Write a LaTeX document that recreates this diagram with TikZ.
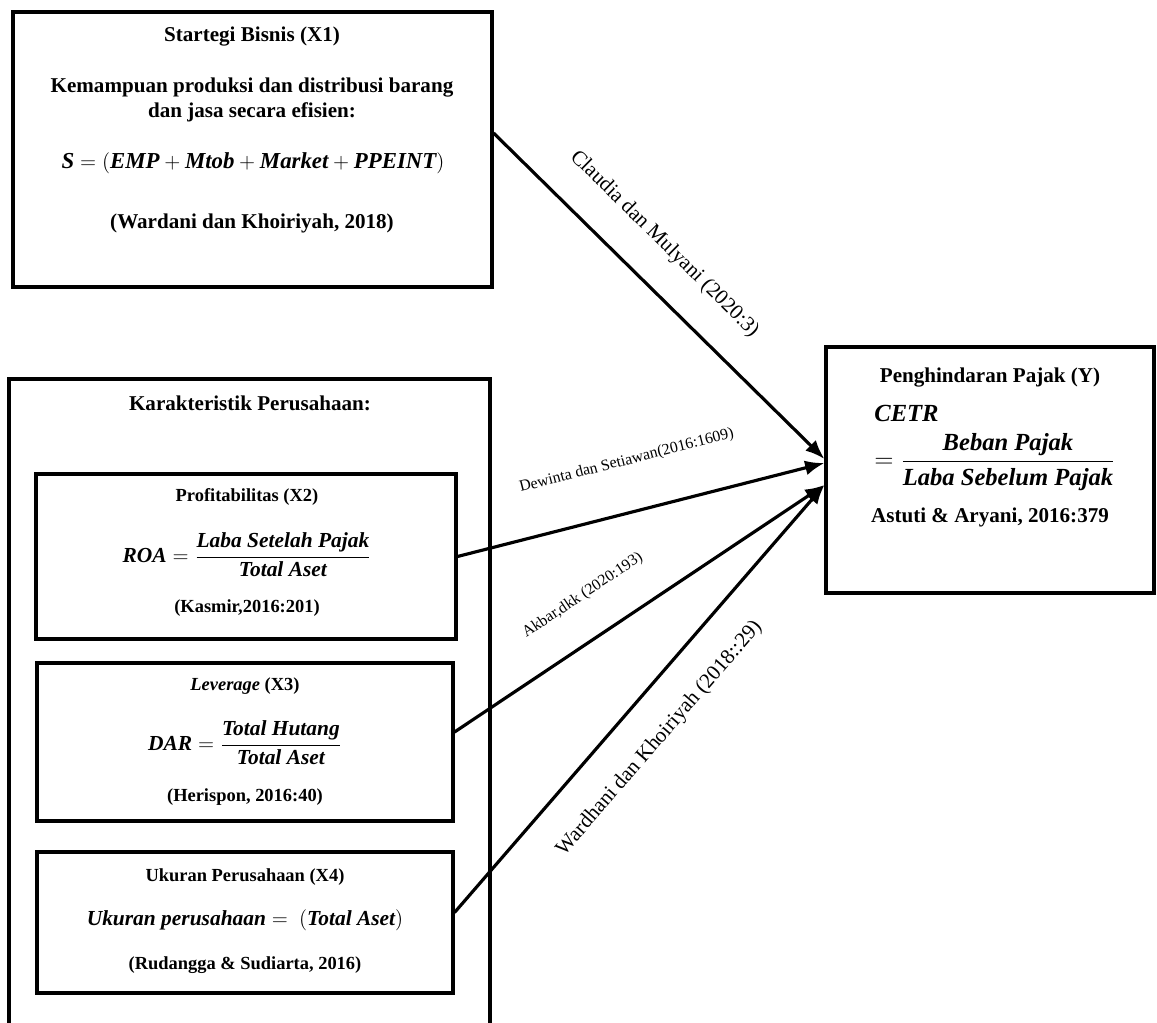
\documentclass[tikz,border=0pt]{standalone}
\usepackage{fontspec}
\setmainfont{Liberation Serif}
\usepackage{amsmath}
\usetikzlibrary{arrows.meta}

% bold italic letters in the formulas
\newcommand{\mv}[1]{\text{\bfseries\itshape #1}}

\tikzset{
	varbox/.style={draw, line width=1.8pt, inner sep=0pt},
	link/.style={line width=1.8pt, -{Latex[length=11pt,width=8.5pt]}},
	head/.style={font=\fontsize{12}{14.5}\selectfont\bfseries, align=center},
	subhead/.style={font=\fontsize{10.5}{12.5}\selectfont\bfseries},
	bigeq/.style={font=\fontsize{13}{15}\selectfont},
	yeq/.style={font=\fontsize{14}{16}\selectfont},
	smalleq/.style={font=\fontsize{12.2}{14}\selectfont},
	bigcite/.style={font=\fontsize{12}{14}\selectfont, inner sep=0pt},
	smallcite/.style={font=\fontsize{9}{11}\selectfont, inner sep=0pt},
}

\begin{document}
\begin{tikzpicture}[x=0.02cm, y=-0.02cm]
\useasboundingbox (0,0) rectangle (1157,1023);

	% boxes
\path
	(252.5,149.5) node[varbox, minimum width=9.58cm, minimum height=5.5cm] (x1) {}
	(246,556.5) node[varbox, minimum width=8.4cm, minimum height=3.3cm] (x2) {}
	(245,742) node[varbox, minimum width=8.32cm, minimum height=3.16cm] (x3) {}
	(245,922.5) node[varbox, minimum width=8.32cm, minimum height=2.82cm] (x4) {}
	(990,470) node[varbox, minimum width=6.56cm, minimum height=4.92cm] (y) {}
	;
\draw[line width=1.8pt] (9,1023) -- (9,379) -- (490,379) -- (490,1023);

	% X1
\path
	(252,37) node[head] (x1title) {Startegi Bisnis (X1)}
	(252,100) node[head] (x1text) {Kemampuan produksi dan distribusi barang\\dan jasa secara efisien:}
	(253,163) node[bigeq] (x1eq) {$\mv{S} = (\mv{EMP} + \mv{Mtob} + \mv{Market} + \mv{PPEINT})$}
	(252,223) node[head] (x1cite) {(Wardani dan Khoiriyah, 2018)}
	;

	% karakteristik
\path (250,403) node[head] (kartitle) {Karakteristik Perusahaan:};

\path
	(247,497) node[subhead] (x2title) {Profitabilitas (X2)}
	(247,555) node[smalleq] (x2eq) {$\mv{ROA} = \dfrac{\mv{Laba Setelah Pajak}}{\mv{Total Aset}}$}
	(247,608) node[subhead] (x2cite) {(Kasmir,2016:201)}
	;

\path
	(245,686) node[subhead] (x3title) {\textit{Leverage} (X3)}
	(245,743) node[smalleq] (x3eq) {$\mv{DAR} = \dfrac{\mv{Total Hutang}}{\mv{Total Aset}}$}
	(245,797) node[subhead] (x3cite) {(Herispon, 2016:40)}
	;

\path
	(245,877) node[subhead] (x4title) {Ukuran Perusahaan (X4)}
	(245,920) node[smalleq] (x4eq) {$\mv{Ukuran perusahaan} = \ (\mv{Total Aset})$}
	(245,965) node[subhead] (x4cite) {(Rudangga \& Sudiarta, 2016)}
	;

	% Y
\path
	(990,378) node[head] (ytitle) {Penghindaran Pajak (Y)}
	(874,413) node[yeq, anchor=west, inner sep=0pt] (ycetr) {$\mv{CETR}$}
	(874,462) node[yeq, anchor=west, inner sep=0pt] (yfrac) {$= \dfrac{\mv{Beban Pajak}}{\mv{Laba Sebelum Pajak}}$}
	(990,517) node[head] (ycite) {Astuti \& Aryani, 2016:379}
	;

	% arrows
\draw[link] ([yshift=0.33cm]x1.east) -- ([yshift=0.22cm]y.west)
	node[bigcite, pos=.43, sloped, above=0.59cm] {Claudia dan Mulyani (2020:3)};
\draw[link] (x2.east) -- ([yshift=0.14cm]y.west)
	node[smallcite, pos=.495, sloped, above=0.84cm] {Dewinta dan Setiawan(2016:1609)};
\draw[link] ([yshift=0.2cm]x3.east) -- ([yshift=-0.3cm]y.west)
	node[smallcite, pos=.41, sloped, above=0.67cm] {Akbar,dkk (2020:193)};
\draw[link] ([yshift=0.2cm]x4.east) -- ([yshift=-0.3cm]y.west)
	node[bigcite, pos=.47, sloped, below=0.6cm] {Wardhani dan Khoiriyah (2018::29)};
\end{tikzpicture}
\end{document}
